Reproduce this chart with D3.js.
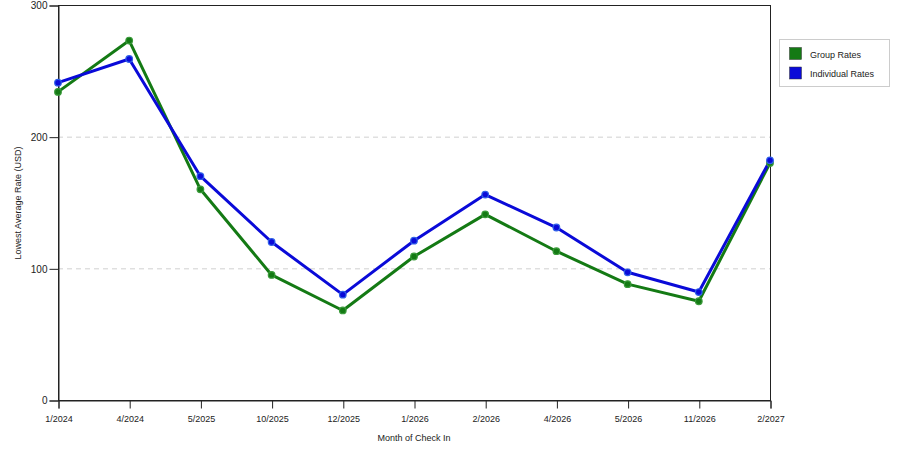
<!DOCTYPE html>
<html><head><meta charset="utf-8">
<script src="https://cdn.jsdelivr.net/npm/d3@7"></script>
<style>body{margin:0;background:#fff}svg{display:block}text{font-family:"Liberation Sans",Arial,sans-serif}</style>
</head><body>
<script>
const categories = ["1/2024","4/2024","5/2025","10/2025","12/2025","1/2026","2/2026","4/2026","5/2026","11/2026","2/2027"];
const groupRates = [234,273,160,95,68,109,141,113,88,75,180];
const individualRates = [241,259,170,120,80,121,156,131,97,82,182];
const yTicks = [0,100,200,300];
const seriesNames = ["Group Rates","Individual Rates"];
const colors = ["#147a14","#0a0ad8"];
const markerColors = ["#3a9a3a","#2f5fe8"];

const W=900,H=450, L=58, R=770, T=5, B=400;
const svg=d3.select("body").append("svg").attr("width",W).attr("height",H);
const x=d3.scalePoint().domain(categories).range([L,R]);
const y=d3.scaleLinear().domain([0,300]).range([B,T]);

// grid
svg.append("g").selectAll("line").data([100,200]).join("line")
 .attr("x1",L).attr("x2",R).attr("y1",d=>y(d)+0.5).attr("y2",d=>y(d)+0.5)
 .attr("stroke","#d0d0d0").attr("stroke-dasharray","5,4");

// frame
svg.append("rect").attr("x",L+0.5).attr("y",T+0.5).attr("width",R-L).attr("height",B-T)
 .attr("fill","none").attr("stroke","#222");

const ya=svg.append("g").attr("transform",`translate(${L+0.5},0.5)`)
 .call(d3.axisLeft(y).tickValues(yTicks).tickSize(9).tickPadding(2));
ya.select(".domain").attr("stroke","#222");
ya.selectAll("line").attr("stroke","#222");
ya.selectAll("text").attr("font-size",10).attr("fill","#222").attr("font-family","Liberation Sans, Arial, sans-serif");
const xa=svg.append("g").attr("transform",`translate(0.5,${B+0.5})`)
 .call(d3.axisBottom(x).tickSize(8).tickPadding(7));
xa.select(".domain").attr("stroke","#222");
xa.selectAll("line").attr("stroke","#222");
xa.selectAll("text").attr("font-size",9).attr("fill","#222").attr("font-family","Liberation Sans, Arial, sans-serif");

svg.append("text").attr("x",414).attr("y",441).attr("text-anchor","middle").attr("font-size",9).attr("fill","#222").text("Month of Check In");
svg.append("text").attr("transform","translate(21,203) rotate(-90)").attr("text-anchor","middle").attr("font-size",9).attr("fill","#222").text("Lowest Average Rate (USD)");

const line=d3.line().x((d,i)=>x(categories[i])).y(d=>y(d));
[groupRates,individualRates].forEach((s,k)=>{
  svg.append("path").datum(s).attr("d",line).attr("fill","none").attr("stroke",colors[k]).attr("stroke-width",3).attr("stroke-linejoin","round");
});
[groupRates,individualRates].forEach((s,k)=>{
  svg.append("g").selectAll("circle").data(s).join("circle")
   .attr("cx",(d,i)=>x(categories[i])).attr("cy",d=>y(d)).attr("r",3.3)
   .attr("fill",colors[k]).attr("stroke",markerColors[k]).attr("stroke-width",1.2);
});

// legend
const lg=svg.append("g");
lg.append("rect").attr("x",779.5).attr("y",39.5).attr("width",110).attr("height",47).attr("fill","#fff").attr("stroke","#ccc");
seriesNames.forEach((n,i)=>{
  lg.append("rect").attr("x",789.5).attr("y",47.5+i*19.5).attr("width",12).attr("height",12).attr("fill",colors[i]).attr("stroke","#333").attr("stroke-width",0.5);
  lg.append("text").attr("x",810).attr("y",57.5+i*19.5).attr("font-size",9).attr("fill","#222").text(n);
});
</script>
</body></html>
